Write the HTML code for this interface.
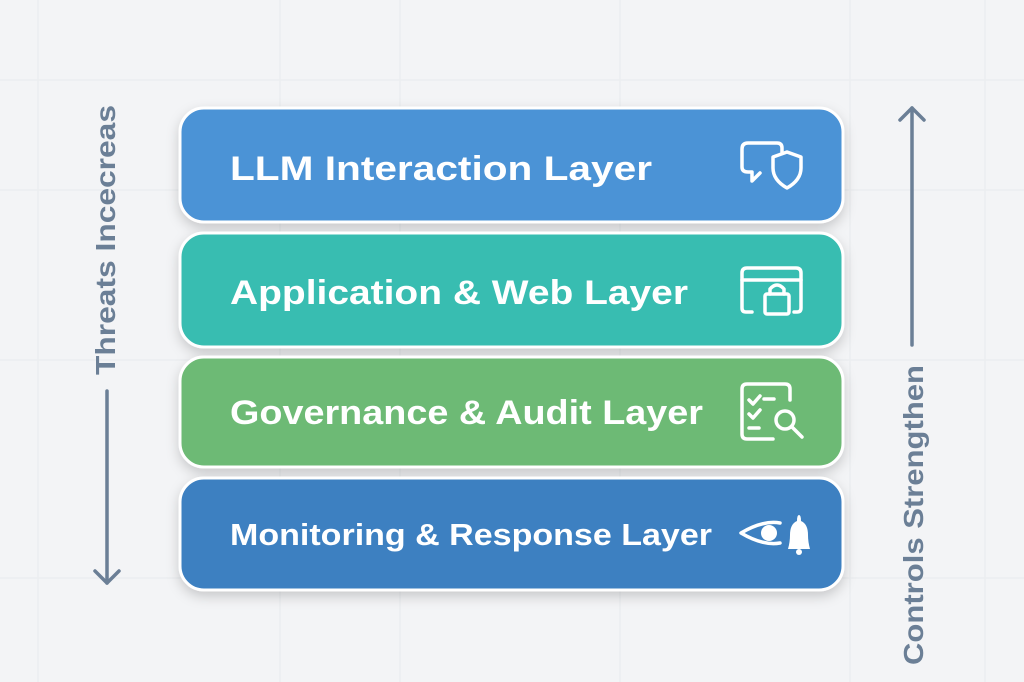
<!DOCTYPE html>
<html><head><meta charset="utf-8"><style>
html,body{margin:0;padding:0;background:#f3f4f6;}
svg{display:block;font-family:"Liberation Sans",sans-serif;}
</style></head><body>
<svg width="1024" height="682" viewBox="0 0 1024 682">
<defs>
<filter id="sh" x="-10%" y="-20%" width="120%" height="150%"><feDropShadow dx="0" dy="5" stdDeviation="6" flood-color="#000" flood-opacity="0.18"/></filter>
</defs>
<rect width="1024" height="682" fill="#f3f4f6"/>
<g stroke="#ebedf0" stroke-width="1.5">
<line x1="0" y1="80" x2="1024" y2="80"/><line x1="0" y1="190" x2="1024" y2="190"/><line x1="0" y1="360" x2="1024" y2="360"/><line x1="0" y1="578" x2="1024" y2="578"/>
<line x1="38" y1="0" x2="38" y2="682"/><line x1="280" y1="0" x2="280" y2="682"/><line x1="400" y1="0" x2="400" y2="682"/><line x1="620" y1="0" x2="620" y2="682"/><line x1="850" y1="0" x2="850" y2="682"/><line x1="985" y1="0" x2="985" y2="682"/>
</g>
<g filter="url(#sh)" stroke="#fff" stroke-width="3">
<rect x="180" y="108" width="663" height="114" rx="24" fill="#4b93d6"/>
<rect x="180" y="233" width="663" height="114" rx="24" fill="#39bdb1"/>
<rect x="180" y="357" width="663" height="110" rx="24" fill="#6dba75"/>
<rect x="180" y="478" width="663" height="112" rx="24" fill="#3d80c1"/>
</g>
<g fill="#fff" font-weight="bold" font-size="34">
<text x="230" y="180" textLength="422" lengthAdjust="spacingAndGlyphs">LLM Interaction Layer</text>
<text x="230" y="304" textLength="458" lengthAdjust="spacingAndGlyphs">Application &amp; Web Layer</text>
<text x="230" y="424" textLength="473" lengthAdjust="spacingAndGlyphs">Governance &amp; Audit Layer</text>
<text x="230" y="545" font-size="31" textLength="482" lengthAdjust="spacingAndGlyphs">Monitoring &amp; Response Layer</text>
</g>
<g fill="none" stroke="#fff" stroke-width="3.5" stroke-linecap="round" stroke-linejoin="round">
<!-- chat shield -->
<path d="M782 152 V148 Q782 143 777 143 H748 Q742 143 742 149 V167 Q742 172 748 172 H752 V181 L760 173"/>
<path d="M787 152 L801 157 V168 Q801 180 787 188 Q773 180 773 168 V157 Z"/>
<!-- browser lock -->
<path d="M752 312 H746 Q742 312 742 308 V273 Q742 268 747 268 H796 Q801 268 801 273 V308 Q801 312 797 312 H794"/>
<line x1="742" y1="280" x2="801" y2="280"/>
<rect x="765" y="294" width="24" height="20" rx="2"/>
<path d="M770 294 V289 Q777 281 784 289 V294"/>
<!-- checklist search -->
<path d="M790 400 V389 Q790 384 785 384 H747 Q742 384 742 389 V434 Q742 439 747 439 H773"/>
<path d="M749 400 L753 404 L760 396"/><path d="M749 414 L753 418 L760 410"/>
<line x1="764" y1="399" x2="774" y2="399"/><line x1="749" y1="428" x2="759" y2="428"/>
<circle cx="785" cy="420" r="9"/><line x1="792" y1="427" x2="802" y2="437"/>
<!-- eye -->
<path d="M780 523 Q763 520 741 533 Q763 546 780 543"/>
</g>
<g fill="#fff">
<circle cx="769" cy="533" r="8"/>
<path d="M788 549 Q790 542 790 535 Q790 524 797 521 Q797 515 799 515 Q801 515 801 521 Q808 524 808 535 Q808 542 810 549 Z"/>
<circle cx="799" cy="552" r="3"/>
</g>
<g stroke="#6b7f96" stroke-width="3.5" fill="none" stroke-linecap="round" stroke-linejoin="round">
<line x1="107" y1="391" x2="107" y2="583"/><path d="M95 571 L107 583 L119 571"/>
<line x1="912" y1="108" x2="912" y2="345"/><path d="M900 120 L912 108 L924 120"/>
</g>
<g fill="#6b7f96" font-weight="bold" font-size="28">
<text transform="translate(115,375) rotate(-90)" textLength="270" lengthAdjust="spacingAndGlyphs">Threats Incecreas</text>
<text transform="translate(923,665) rotate(-90)" textLength="300" lengthAdjust="spacingAndGlyphs">Controls Strengthen</text>
</g>
</svg>
</body></html>
